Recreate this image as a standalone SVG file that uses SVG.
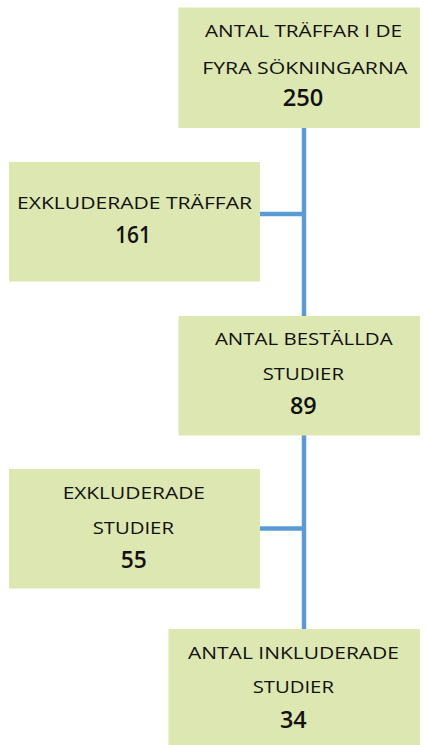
<svg xmlns="http://www.w3.org/2000/svg" width="426" height="745" viewBox="0 0 426 745">
<style>
.box{fill:#dde7b2;}
.lbl{font-family:"Open Sans","Liberation Sans",sans-serif;font-size:16.5px;fill:#111;text-anchor:middle;}
.num{font-family:"Open Sans","Liberation Sans",sans-serif;font-size:23px;font-weight:600;fill:#111;text-anchor:middle;}
.conn{stroke:#5b9bd5;stroke-width:4.5;fill:none;}
</style>
<rect width="426" height="745" fill="#ffffff"/>
<g id="connectors">
<line class="conn" x1="304" y1="128" x2="304" y2="629"/>
<line class="conn" x1="260" y1="214" x2="304" y2="214"/>
<line class="conn" x1="260" y1="528.5" x2="304" y2="528.5"/>
</g>
<g id="n1">
<rect class="box" x="178.5" y="7.5" width="241.5" height="120.5"/>
<text class="lbl" x="303.5" y="37" textLength="197" lengthAdjust="spacingAndGlyphs">ANTAL TRÄFFAR I DE</text>
<text class="lbl" x="304.8" y="74" textLength="205" lengthAdjust="spacingAndGlyphs">FYRA SÖKNINGARNA</text>
<text class="num" x="303" y="106" textLength="40.6" lengthAdjust="spacingAndGlyphs">250</text>
</g>
<g id="n2">
<rect class="box" x="9" y="162" width="251" height="119.5"/>
<text class="lbl" x="134.5" y="208.5" textLength="235" lengthAdjust="spacingAndGlyphs">EXKLUDERADE TRÄFFAR</text>
<text class="num" x="133" y="243" textLength="35.7" lengthAdjust="spacingAndGlyphs">161</text>
</g>
<g id="n3">
<rect class="box" x="178.5" y="316" width="241.5" height="119.5"/>
<text class="lbl" x="303.8" y="345" textLength="177.7" lengthAdjust="spacingAndGlyphs">ANTAL BESTÄLLDA</text>
<text class="lbl" x="303.3" y="379.5" textLength="81.3" lengthAdjust="spacingAndGlyphs">STUDIER</text>
<text class="num" x="303.3" y="413.5" textLength="26.7" lengthAdjust="spacingAndGlyphs">89</text>
</g>
<g id="n4">
<rect class="box" x="9" y="469" width="251" height="119.5"/>
<text class="lbl" x="133.8" y="498.5" textLength="142.3" lengthAdjust="spacingAndGlyphs">EXKLUDERADE</text>
<text class="lbl" x="133.3" y="533.5" textLength="81.3" lengthAdjust="spacingAndGlyphs">STUDIER</text>
<text class="num" x="133.7" y="567.5" textLength="26" lengthAdjust="spacingAndGlyphs">55</text>
</g>
<g id="n5">
<rect class="box" x="168.5" y="629" width="251.5" height="116"/>
<text class="lbl" x="293.5" y="658.5" textLength="211" lengthAdjust="spacingAndGlyphs">ANTAL INKLUDERADE</text>
<text class="lbl" x="293.3" y="693" textLength="81.3" lengthAdjust="spacingAndGlyphs">STUDIER</text>
<text class="num" x="293.3" y="727.5" textLength="26.7" lengthAdjust="spacingAndGlyphs">34</text>
</g>
</svg>
